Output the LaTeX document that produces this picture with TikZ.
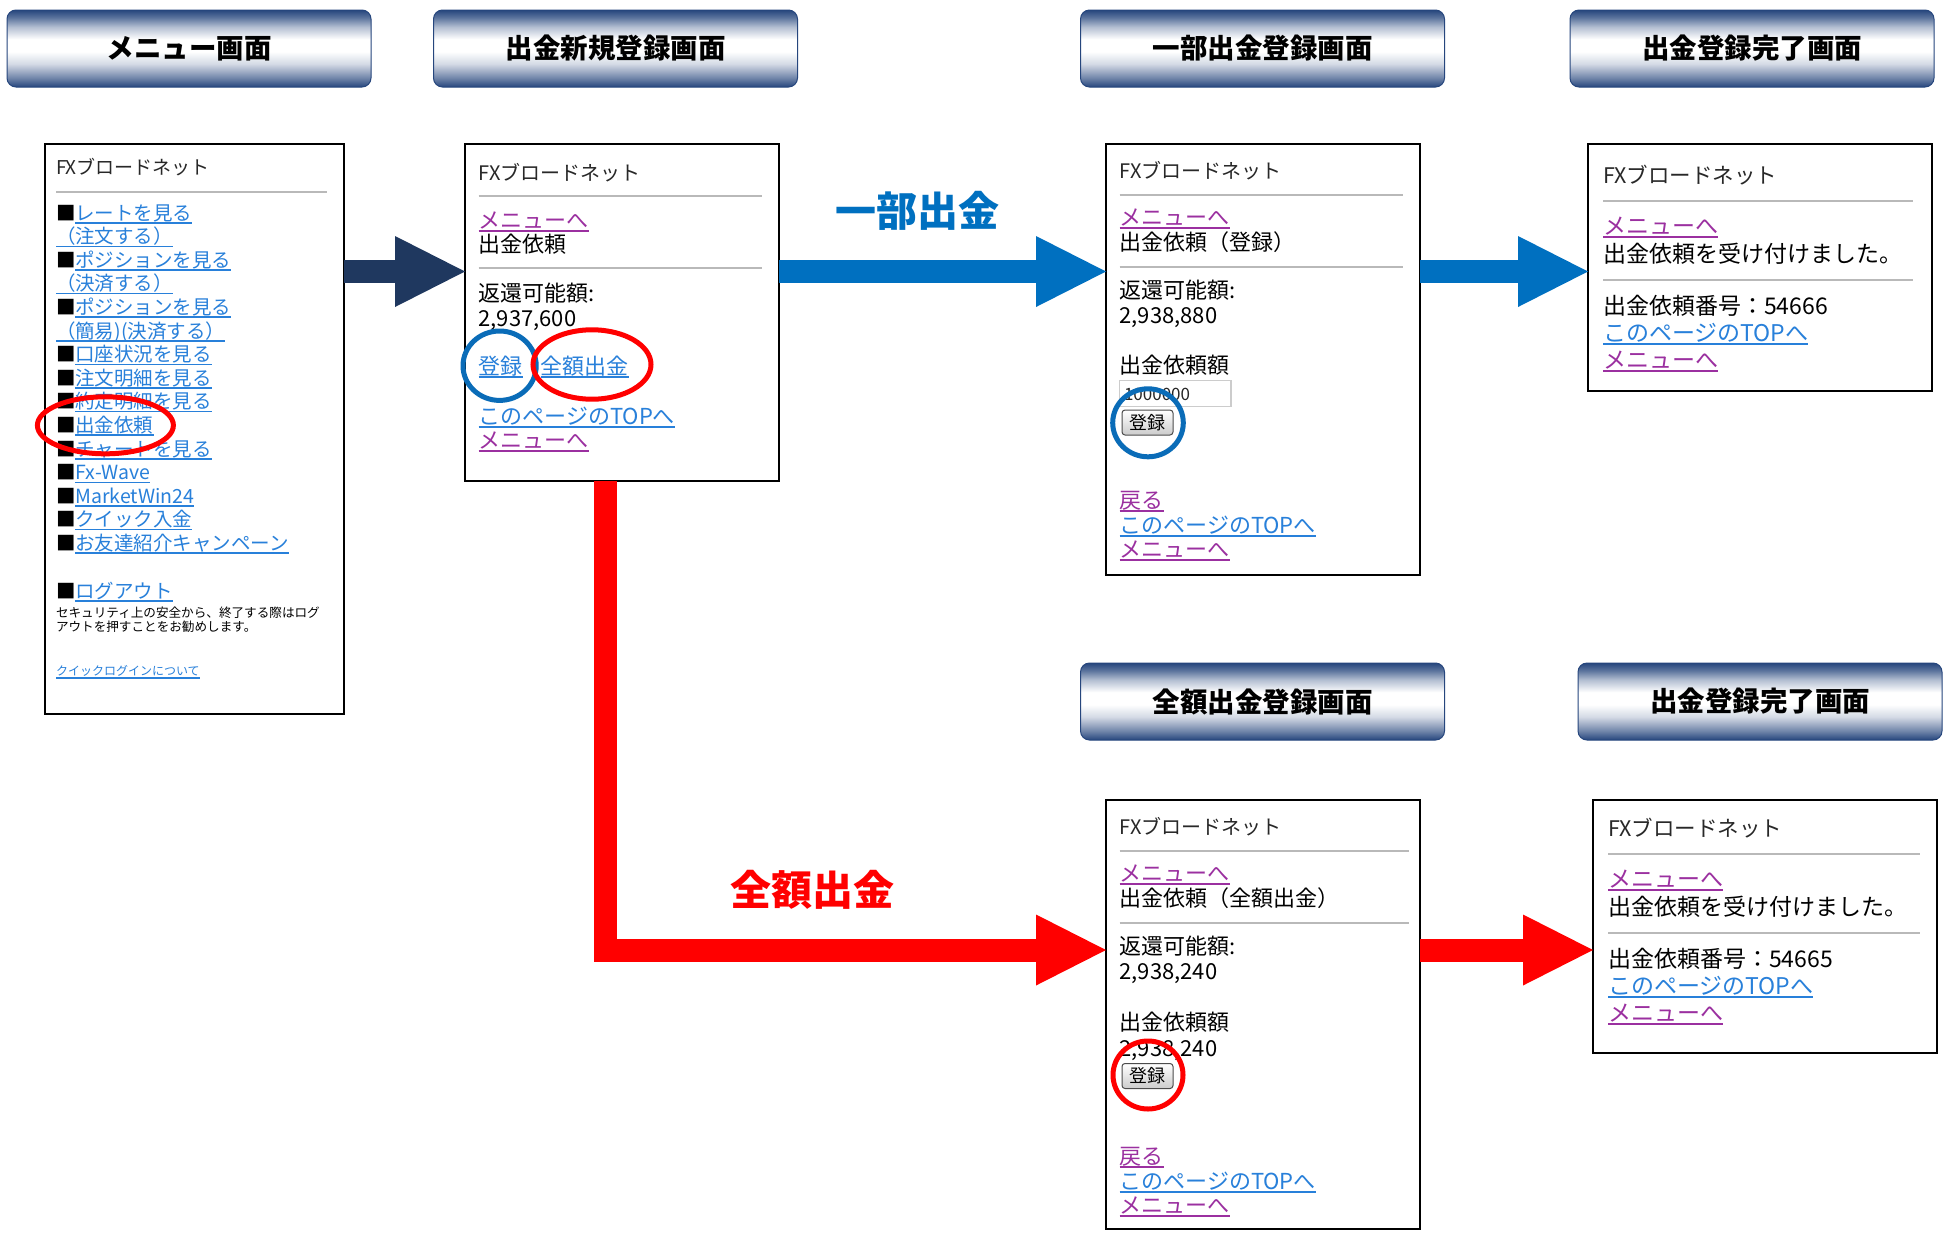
\documentclass[tikz,border=0pt]{standalone}
\usepackage{fontspec}
\newfontfamily\jp{Noto Sans CJK JP}
\usetikzlibrary{arrows.meta}
\definecolor{hnavy}{RGB}{38,70,125}
\definecolor{anavy}{RGB}{31,56,95}
\definecolor{ablue}{RGB}{0,112,192}
\definecolor{cblue}{RGB}{10,108,184}
\definecolor{lblue}{RGB}{40,128,218}
\definecolor{vpurple}{RGB}{155,48,160}
\definecolor{rgray}{RGB}{185,185,185}
\definecolor{ared}{RGB}{255,0,0}
\definecolor{fxgray}{RGB}{40,40,40}
\pgfdeclareverticalshading{hdrshade}{100bp}{color(0bp)=(hnavy); color(25bp)=(hnavy); color(31bp)=(hnavy!65!white); color(40bp)=(hnavy!20!white); color(48bp)=(white); color(56bp)=(white); color(64bp)=(hnavy!35!white); color(70bp)=(hnavy!75!white); color(75bp)=(hnavy); color(100bp)=(hnavy)}
\newsavebox\ulbox
\newcommand\ulk[1]{\sbox\ulbox{#1}\rlap{\rule[-3.5pt]{\wd\ulbox}{1.5pt}}\usebox\ulbox}
\newcommand\mi[1]{■\textcolor{lblue}{\ulk{#1}}}
\begin{document}
\begin{tikzpicture}[x=1pt,y=-1pt,
  hdr/.style={rounded corners=9pt, draw=hnavy, line width=1pt, shading=hdrshade, minimum width=364pt, minimum height=77pt, inner sep=0pt, font=\jp\bfseries\fontsize{27.5}{30}\selectfont},
  scr/.style={draw=black, line width=2pt, fill=white, inner sep=0pt, outer sep=0pt, anchor=north west},
  t/.style={anchor=base west, inner sep=0pt, outer sep=0pt, text=black},
  s19/.style={font=\jp\fontsize{19.5}{20}\selectfont},
  s22/.style={font=\jp\fontsize{22}{22}\selectfont},
  s23/.style={font=\jp\fontsize{23}{23}\selectfont},
  fx/.style={text=fxgray},
  lk/.style={text=lblue},
  vl/.style={text=vpurple},
  rl/.style={draw=rgray, line width=2pt},
  hl/.style={line width=5pt},
  bigarrow/.style={line width=23pt, -{Triangle[length=70pt,width=71pt,line width=0pt]}},
  btn/.style={draw=gray!60!black, rounded corners=3pt, top color=white, bottom color=gray!40, minimum width=51pt, minimum height=25pt, inner sep=0pt, line width=1pt, font=\jp\fontsize{18}{18}\selectfont},
  lab/.style={font=\jp\bfseries\fontsize{41}{41}\selectfont}
]
\useasboundingbox (0,0) rectangle (1944,1232);
\fill[white] (0,0) rectangle (1944,1232);

% headers
\node[hdr] (h1) at (189,48.5) {メニュー画面};
\node[hdr] (h2) at (615.5,48.5) {出金新規登録画面};
\node[hdr] (h3) at (1262.5,48.5) {一部出金登録画面};
\node[hdr] (h4) at (1752,48.5) {出金登録完了画面};
\node[hdr] (h5) at (1262.5,701.5) {全額出金登録画面};
\node[hdr] (h6) at (1760,701.5) {出金登録完了画面};

% screens
\node[scr, minimum width=299pt, minimum height=570pt] (menu) at (44.6,143.8) {};
\node[scr, minimum width=314pt, minimum height=337pt] (new) at (465,144) {};
\node[scr, minimum width=314pt, minimum height=431pt] (ichibu) at (1106,144) {};
\node[scr, minimum width=344pt, minimum height=247pt] (kan1) at (1588,144) {};
\node[scr, minimum width=314pt, minimum height=429pt] (zen) at (1106,800) {};
\node[scr, minimum width=344pt, minimum height=253pt] (kan2) at (1593,800) {};

% arrows
\coordinate (yA) at (0,271.5);
\coordinate (yR) at (0,950);
\coordinate (xR) at (605,0);
\draw[bigarrow, color=anavy] (menu.east |- yA) -- (new.west |- yA);
\draw[bigarrow, color=ablue] (new.east |- yA) -- (ichibu.west |- yA);
\draw[bigarrow, color=ablue] (ichibu.east |- yA) -- (kan1.west |- yA);
\draw[bigarrow, color=ared] (new.south -| xR) |- (zen.west |- yR);
\draw[bigarrow, color=ared] (zen.east |- yR) -- (kan2.west |- yR);
\node[lab, text=ablue] (lab1) at (917,211) {一部出金};
\node[lab, text=ared] (lab2) at (812,890) {全額出金};

% ---- menu screen
\node[t,fx,font=\jp\fontsize{19}{19}\selectfont] (m0) at (56,174) {FXブロードネット};
\draw[rl] (56,192) -- (327,192);
\node[t,s19] (m1) at (56,220) {\mi{レートを見る}};
\node[t,s19,lk] (m2) at (56,243.6) {\ulk{（注文する）}};
\node[t,s19] (m3) at (56,267.2) {\mi{ポジションを見る}};
\node[t,s19,lk] (m4) at (56,290.8) {\ulk{（決済する）}};
\node[t,s19] (m5) at (56,314.4) {\mi{ポジションを見る}};
\node[t,s19,lk] (m6) at (56,338) {\ulk{（簡易)(決済する）}};
\node[t,s19] (m7) at (56,361.6) {\mi{口座状況を見る}};
\node[t,s19] (m8) at (56,385.2) {\mi{注文明細を見る}};
\node[t,s19] (m9) at (56,408.8) {\mi{約定明細を見る}};
\node[t,s19] (m10) at (56,432.4) {\mi{出金依頼}};
\node[t,s19] (m11) at (56,456) {\mi{チャートを見る}};
\node[t,s19] (m12) at (56,479.6) {\mi{Fx-Wave}};
\node[t,s19] (m13) at (56,503.2) {\mi{MarketWin24}};
\node[t,s19] (m14) at (56,526.8) {\mi{クイック入金}};
\node[t,s19] (m15) at (56,550.4) {\mi{お友達紹介キャンペーン}};
\node[t,s19] (m16) at (56,598) {\mi{ログアウト}};
\node[t,font=\jp\fontsize{12.6}{13}\selectfont] (m17) at (56,617) {セキュリティ上の安全から、終了する際はログ};
\node[t,font=\jp\fontsize{12.6}{13}\selectfont] (m18) at (56,631) {アウトを押すことをお勧めします。};
\node[t,lk,font=\jp\fontsize{12}{12}\selectfont] (m19) at (56,675) {\ulk{クイックログインについて}};
\draw[ared, hl] (105.4,425.3) ellipse [x radius=68, y radius=28.5];

% ---- new request screen
\node[t,fx,font=\jp\fontsize{20}{20}\selectfont] (n0) at (478.6,180) {FXブロードネット};
\draw[rl] (478.6,196) -- (762,196);
\node[t,s22,vl] (n1) at (478.6,228) {\ulk{メニューへ}};
\node[t,s22] (n2) at (478.6,252) {出金依頼};
\draw[rl] (478.6,268) -- (762,268);
\node[t,s22] (n3) at (478.6,301) {返還可能額:};
\node[t,s22] (n4) at (478.6,326) {2,937,600};
\node[t,s22,lk] (n5) at (478.6,374) {\ulk{登録}};
\node[t,s22,lk] (n6) at (540.5,374) {\ulk{全額出金}};
\node[t,s22,lk] (n7) at (478.6,424) {\ulk{このページのTOPへ}};
\node[t,s22,vl] (n8) at (478.6,448) {\ulk{メニューへ}};
\draw[cblue, hl] (499.6,365.7) ellipse [x radius=36.6, y radius=34.7];
\draw[ared, hl] (592,364.5) ellipse [x radius=59, y radius=34.7];

% ---- partial screen
\node[t,fx,font=\jp\fontsize{20}{20}\selectfont] (p0) at (1119.5,178) {FXブロードネット};
\draw[rl] (1119.5,195) -- (1403,195);
\node[t,s22,vl] (p1) at (1119.5,225) {\ulk{メニューへ}};
\node[t,s22] (p2) at (1119.5,250) {出金依頼（登録）};
\draw[rl] (1119.5,266.6) -- (1403,266.6);
\node[t,s22] (p3) at (1119.5,298) {返還可能額:};
\node[t,s22] (p4) at (1119.5,323) {2,938,880};
\node[t,s22] (p5) at (1119.5,373) {出金依頼額};
\draw[gray!40, line width=1.2pt] (1119.5,380.6) rectangle (1231,406.7);
\node[t,font=\jp\fontsize{17}{17}\selectfont,text=black!85] (p6) at (1124,400) {1000000};
\node[btn] (pb) at (1147.5,422.5) {登録};
\draw[cblue, hl] (1148,422.8) ellipse [x radius=35.3, y radius=34];
\node[t,s22,vl] (p7) at (1119.5,508) {\ulk{戻る}};
\node[t,s22,lk] (p8) at (1119.5,533) {\ulk{このページのTOPへ}};
\node[t,s22,vl] (p9) at (1119.5,557) {\ulk{メニューへ}};

% ---- complete screen 1
\node[t,fx,font=\jp\fontsize{21.5}{21.5}\selectfont] (c0) at (1603,183) {FXブロードネット};
\draw[rl] (1603,201) -- (1913,201);
\node[t,s23,vl] (c1) at (1603,234) {\ulk{メニューへ}};
\node[t,s23] (c2) at (1603,262) {出金依頼を受け付けました。};
\draw[rl] (1603,280) -- (1913,280);
\node[t,s23] (c3) at (1603,314) {出金依頼番号：54666};
\node[t,s23,lk] (c4) at (1603,341) {\ulk{このページのTOPへ}};
\node[t,s23,vl] (c5) at (1603,368) {\ulk{メニューへ}};

% ---- full amount screen
\node[t,fx,font=\jp\fontsize{20}{20}\selectfont] (z0) at (1119.5,834) {FXブロードネット};
\draw[rl] (1119.5,851) -- (1409,851);
\node[t,s22,vl] (z1) at (1119.5,881) {\ulk{メニューへ}};
\node[t,s22] (z2) at (1119.5,906) {出金依頼（全額出金）};
\draw[rl] (1119.5,922.5) -- (1409,922.5);
\node[t,s22] (z3) at (1119.5,954) {返還可能額:};
\node[t,s22] (z4) at (1119.5,979) {2,938,240};
\node[t,s22] (z5) at (1119.5,1030) {出金依頼額};
\node[t,s22] (z6) at (1119.5,1056) {2,938,240};
\node[btn] (zb) at (1147.5,1076) {登録};
\draw[ared, hl] (1148,1075) ellipse [x radius=35, y radius=34];
\node[t,s22,vl] (z7) at (1119.5,1164) {\ulk{戻る}};
\node[t,s22,lk] (z8) at (1119.5,1189) {\ulk{このページのTOPへ}};
\node[t,s22,vl] (z9) at (1119.5,1213) {\ulk{メニューへ}};

% ---- complete screen 2
\node[t,fx,font=\jp\fontsize{21.5}{21.5}\selectfont] (d0) at (1608,836) {FXブロードネット};
\draw[rl] (1608,854) -- (1920,854);
\node[t,s23,vl] (d1) at (1608,887) {\ulk{メニューへ}};
\node[t,s23] (d2) at (1608,915) {出金依頼を受け付けました。};
\draw[rl] (1608,933) -- (1920,933);
\node[t,s23] (d3) at (1608,967) {出金依頼番号：54665};
\node[t,s23,lk] (d4) at (1608,994) {\ulk{このページのTOPへ}};
\node[t,s23,vl] (d5) at (1608,1021) {\ulk{メニューへ}};
\end{tikzpicture}
\end{document}
